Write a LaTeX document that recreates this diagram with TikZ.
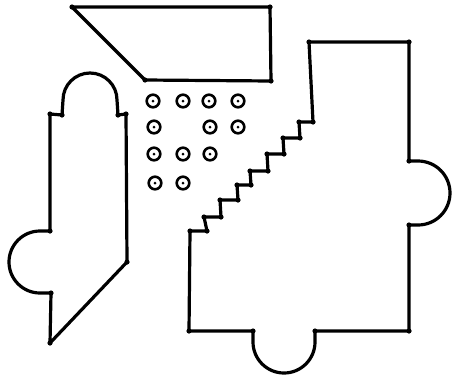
\documentclass[tikz,border=0pt]{standalone}
\begin{document}
\begin{tikzpicture}[x=1pt,y=-1pt,
  wall/.style={line width=3.2pt,line join=round,line cap=round},
  col/.style={line width=2.6pt},
  vdot/.style={fill=black}]
\useasboundingbox (0,0) rectangle (454,381);
% top trapezoid
\draw[wall] (72,7) -- (270,7) -- (271,81) -- (145,80) -- cycle;
% left shape
\draw[wall] (50,114) -- (62,115) -- (63,100) arc(180:360:27) -- (118,115) -- (126,114)
  -- (127,262) -- (50,343) -- (51,293) -- (40,293) arc(90:270:31) -- (50,231) -- cycle;
% right shape with stairs
\draw[wall] (309,42) -- (409,42) -- (409,161) -- (418,161) arc(270:450:32) -- (409,225)
  -- (409,331) -- (315,331) -- (315,342) arc(0:180:31) -- (253,331) -- (189,331)
  -- (190,231) -- (207,231) -- (204,217) -- (221,217) -- (220,200) -- (238,200)
  -- (237,185) -- (251,185) -- (250,171) -- (268,171) -- (267,154) -- (284,154)
  -- (283,138) -- (300,138) -- (299,122) -- (313,122) -- cycle;
% vertex dots
\foreach \p in {(72,7),(270,7),(271,81),(145,80),
  (50,114),(62,115),(118,115),(126,114),(127,262),(50,343),(51,293),(50,231),
  (309,42),(409,42),(409,161),(409,225),(409,331),(315,331),(253,331),(189,331),
  (190,231),(207,231),(204,217),(221,217),(220,200),(238,200),(237,185),(251,185),
  (250,171),(268,171),(267,154),(284,154),(283,138),(300,138),(299,122),(313,122)}
  \fill[vdot] \p circle (2.6);
% columns
\foreach \p in {(153,101),(183,101),(209,101),(238,101),
  (154,127),(210,127),(238,127),
  (154,154),(183,154),(210,154),
  (155,183),(183,183)}
  {\draw[col] \p circle (6.3); \fill \p circle (1.5);}
\end{tikzpicture}
\end{document}
